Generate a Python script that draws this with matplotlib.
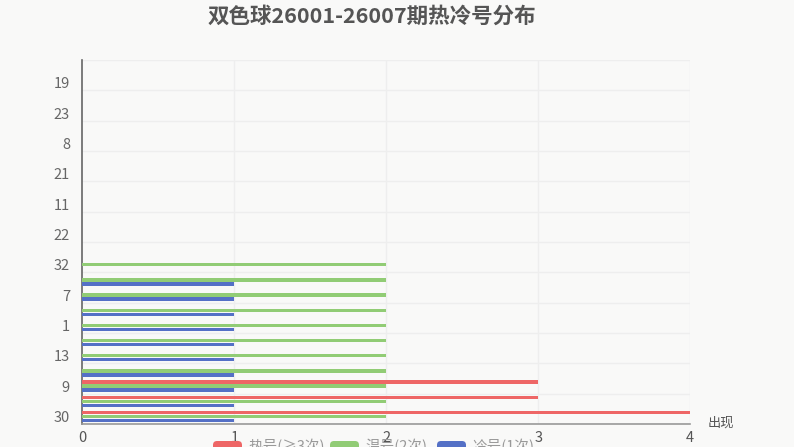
import numpy as np
import matplotlib.pyplot as plt
from matplotlib.patches import FancyBboxPatch

plt.rcParams['font.family'] = ['Noto Sans CJK SC', 'DejaVu Sans']

# y categories, bottom to top; only every other label is visible in the chart
labels = ['30', '', '9', '', '13', '', '1', '', '7', '', '32', '',
          '22', '', '11', '', '21', '', '8', '', '23', '', '19', '']
hot = [4, 3, 3]
warm = [2, 2, 2, 2, 2, 2, 2, 2, 2, 2, 2]
cold = [1, 1, 1, 1, 1, 1, 1, 1, 1, 1]
series_names = ['热号(≥3次)', '温号(2次)', '冷号(1次)']
colors = ['#ee6666', '#91cc75', '#5470c6']

bg = '#f9f9f8'
fig = plt.figure(figsize=(7.94, 4.47), dpi=100, facecolor=bg)
ax = fig.add_axes([0.1039, 0.0515, 0.7651, 0.8143], facecolor=bg)

n = len(labels)
offsets = [0.265, 0.0, -0.26]
bar_h = 0.22
for vals, off, c in zip([hot, warm, cold], offsets, colors):
    y = np.arange(len(vals)) + off
    ax.barh(y, vals, height=bar_h, color=c, zorder=3)

ax.set_xlim(0, 4)
ax.set_ylim(-0.5, n - 0.5)

# grid lines (splitLine every second category)
for k in range(0, n + 1, 2):
    ax.axhline(k - 0.5, color='#eeeeee', lw=1, zorder=1)
for xv in [1, 2, 3, 4]:
    ax.axvline(xv, color='#eeeeee', lw=1, zorder=1)

ax.set_yticks(np.arange(0, n, 2))
ax.set_yticklabels(labels[::2], fontsize=10.5, color='#666666')
ax.set_xticks([0, 1, 2, 3, 4])
ax.set_xticklabels(['0', '1', '2', '3', '4'], fontsize=10.5, color='#555555')
ax.tick_params(axis='both', length=0)
ax.tick_params(axis='y', pad=9)
ax.tick_params(axis='x', pad=5)

for s in ['top', 'right']:
    ax.spines[s].set_visible(False)
ax.spines['left'].set_color('#666666')
ax.spines['left'].set_linewidth(1.2)
ax.spines['bottom'].set_color('#999999')
ax.spines['bottom'].set_linewidth(1.2)

fig.text(708, 447 - 423, '出现', transform=None, fontsize=9.5, color='#555555',
         va='center', ha='left')
fig.text(372, 447 - 16, '双色球26001-26007期热冷号分布', transform=None, fontsize=15.5,
         fontweight='bold', color='#555555', ha='center', va='center')

# legend, partly cut off at the bottom edge like the reference
leg_x = [213, 330, 437]
for lx, name, c in zip(leg_x, series_names, colors):
    rect = FancyBboxPatch((lx, 447 - 455), 29, 14, boxstyle='round,pad=0,rounding_size=4',
                          transform=None, facecolor=c, edgecolor='none')
    fig.patches.append(rect)
    fig.text(lx + 35, 447 - 447, name, transform=None, fontsize=10.5,
             color='#999999', va='center', ha='left')

fig.savefig('out.png', dpi=100, facecolor=bg)
